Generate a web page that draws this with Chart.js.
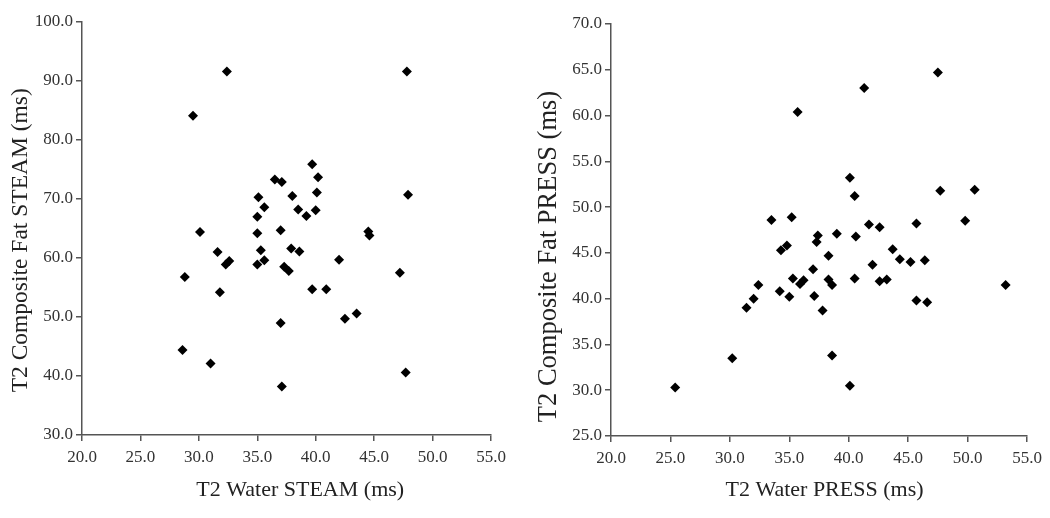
<!DOCTYPE html>
<html>
<head>
<meta charset="utf-8">
<script src="https://cdn.jsdelivr.net/npm/chart.js@4.4.1/dist/chart.umd.min.js"></script>
<style>
  body { margin: 0; background: #fff; }
  .panel { position: absolute; top: 0; width: 525px; height: 518px; }
</style>
</head>
<body>
<div class="panel" style="left:0"><canvas id="steamChart" width="525" height="518"></canvas></div>
<div class="panel" style="left:525px"><canvas id="pressChart" width="525" height="518"></canvas></div>
<script>
// STEAM: water T2 vs composite fat T2 (ms)
const steamWater = [32.4, 47.8, 29.5, 39.7, 40.2, 36.5, 37.1, 35.1, 38.0, 40.1, 47.9,
  35.6, 38.5, 40.0, 39.2, 35.0, 30.1, 35.0, 37.0, 44.5, 44.6, 31.6, 35.3, 37.9, 38.6,
  32.3, 32.6, 35.0, 35.6, 42.0, 37.3, 37.7, 28.8, 47.2, 31.8, 39.7, 40.9, 37.0, 42.5,
  43.5, 28.6, 31.0, 37.1, 47.7];
const steamFat = [91.6, 91.6, 84.1, 75.9, 73.7, 73.3, 72.9, 70.3, 70.5, 71.1, 70.7,
  68.6, 68.2, 68.1, 67.1, 67.0, 64.4, 64.2, 64.7, 64.5, 63.8, 61.0, 61.3, 61.6, 61.1,
  58.9, 59.5, 58.9, 59.6, 59.7, 58.5, 57.8, 56.8, 57.5, 54.2, 54.7, 54.7, 49.0, 49.7,
  50.6, 44.4, 42.1, 38.2, 40.6];

// PRESS: water T2 vs composite fat T2 (ms)
const pressWater = [47.5, 41.3, 35.7, 40.1, 40.5, 47.7, 50.6, 33.5, 35.2, 41.7, 42.6,
  45.7, 49.8, 37.4, 37.3, 39.0, 40.6, 34.3, 34.8, 38.3, 43.7, 42.0, 37.0, 40.5, 35.3,
  36.2, 35.9, 38.3, 38.6, 32.4, 34.2, 32.0, 35.0, 37.1, 31.4, 37.8, 44.3, 45.2, 46.4,
  42.6, 43.2, 53.2, 45.7, 46.6, 38.6, 30.2, 25.4, 40.1];
const pressFat = [64.7, 63.0, 60.4, 53.2, 51.2, 51.8, 51.9, 48.6, 48.9, 48.1, 47.8,
  48.2, 48.5, 46.9, 46.2, 47.1, 46.8, 45.3, 45.8, 44.7, 45.4, 43.7, 43.2, 42.2, 42.2,
  42.0, 41.6, 42.1, 41.5, 41.5, 40.8, 40.0, 40.2, 40.3, 39.0, 38.7, 44.3, 44.0, 44.2,
  41.9, 42.1, 41.5, 39.8, 39.6, 33.8, 33.5, 30.3, 30.5];

// axis ranges [min, max, step]
const waterAxis = [20, 55, 5];
const steamFatAxis = [30, 100, 10];
const pressFatAxis = [25, 70, 5];

const fontFamily = "'Liberation Serif', 'Times New Roman', serif";

function toPoints(xs, ys) {
  return xs.map((x, i) => ({ x: x, y: ys[i] }));
}

function axis(range, title, fitSize, horizontal, titleSize, titlePad) {
  return {
    type: 'linear',
    min: range[0],
    max: range[1],
    ticks: {
      stepSize: range[2],
      color: '#333',
      padding: horizontal ? 6 : 3,
      maxRotation: 0,
      font: { family: fontFamily, size: 17 },
      callback: v => v.toFixed(1)
    },
    grid: {
      drawOnChartArea: false,
      drawTicks: true,
      tickLength: 6,
      color: '#555',
      lineWidth: 1.5
    },
    border: { color: '#555', width: 1.5 },
    title: {
      display: true,
      text: title,
      color: '#222',
      font: { family: fontFamily, size: titleSize },
      padding: titlePad
    },
    afterFit: scale => {
      if (horizontal) scale.height = fitSize;
      else scale.width = fitSize;
    }
  };
}

function makeChart(id, xs, ys, xTitle, yTitle, yRange, pad) {
  return new Chart(document.getElementById(id), {
    type: 'scatter',
    data: {
      datasets: [{
        data: toPoints(xs, ys),
        pointStyle: 'rectRot',
        pointRadius: 5,
        backgroundColor: '#000',
        borderColor: '#000',
        borderWidth: 0
      }]
    },
    options: {
      responsive: false,
      animation: false,
      layout: { padding: { top: pad.top, right: pad.right, left: 0, bottom: 0 } },
      plugins: {
        legend: { display: false },
        tooltip: { enabled: false }
      },
      scales: {
        x: axis(waterAxis, xTitle, pad.xh, true, 22, { top: 4, bottom: 15 }),
        y: axis(yRange, yTitle, pad.yw, false, pad.yFont, { top: pad.yPad, bottom: 4 })
      }
    }
  });
}

// padding spaces nudge the titles along their axes to where the original sits
makeChart('steamChart', steamWater, steamFat, '     T2 Water STEAM (ms)',
  'T2 Composite Fat STEAM (ms)    ', steamFatAxis,
  { top: 22, right: 34, xh: 83, yw: 82, yFont: 23.5, yPad: 7 });
makeChart('pressChart', pressWater, pressFat, '  T2 Water PRESS (ms)',
  'T2 Composite Fat PRESS (ms)        ', pressFatAxis,
  { top: 24, right: 23, xh: 82, yw: 86, yFont: 26.5, yPad: 8 });
</script>
</body>
</html>
